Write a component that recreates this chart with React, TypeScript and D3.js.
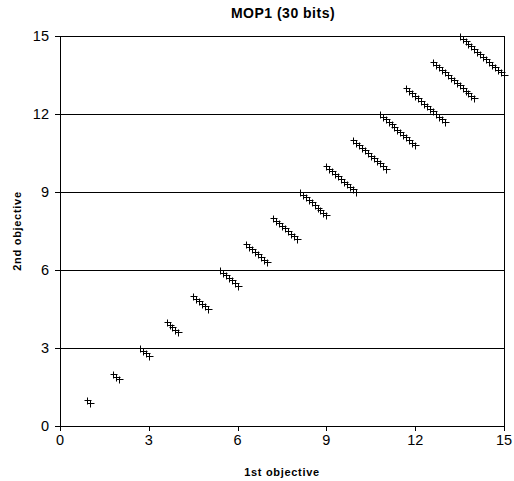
import React from "react";
import * as d3 from "d3";

const title = "MOP1 (30 bits)";
const xLabel = "1st objective";
const yLabel = "2nd objective";
const xTicks = [0, 3, 6, 9, 12, 15];
const yTicks = [0, 3, 6, 9, 12, 15];
const gridValues = [3, 6, 9, 12, 15];

// Points of each front segment (x values, y values)
const clusterX: number[][] = [
  [0.9, 1.0],
  [1.8, 1.9, 2.0],
  [2.7, 2.8, 2.9, 3.0],
  [3.6, 3.7, 3.8, 3.9, 4.0],
  [4.5, 4.6, 4.7, 4.8, 4.9, 5.0],
  [5.4, 5.5, 5.6, 5.7, 5.8, 5.9, 6.0],
  [6.3, 6.4, 6.5, 6.6, 6.7, 6.8, 6.9, 7.0],
  [7.2, 7.3, 7.4, 7.5, 7.6, 7.7, 7.8, 7.9, 8.0],
  [8.1, 8.2, 8.3, 8.4, 8.5, 8.6, 8.7, 8.8, 8.9, 9.0],
  [9.0, 9.1, 9.2, 9.3, 9.4, 9.5, 9.6, 9.7, 9.8, 9.9, 10.0],
  [9.9, 10.0, 10.1, 10.2, 10.3, 10.4, 10.5, 10.6, 10.7, 10.8, 10.9, 11.0],
  [10.8, 10.9, 11.0, 11.1, 11.2, 11.3, 11.4, 11.5, 11.6, 11.7, 11.8, 11.9, 12.0],
  [11.7, 11.8, 11.9, 12.0, 12.1, 12.2, 12.3, 12.4, 12.5, 12.6, 12.7, 12.8, 12.9, 13.0],
  [12.6, 12.7, 12.8, 12.9, 13.0, 13.1, 13.2, 13.3, 13.4, 13.5, 13.6, 13.7, 13.8, 13.9, 14.0],
  [13.5, 13.6, 13.7, 13.8, 13.9, 14.0, 14.1, 14.2, 14.3, 14.4, 14.5, 14.6, 14.7, 14.8, 14.9, 15.0],
];
const clusterY: number[][] = [
  [1.0, 0.9],
  [2.0, 1.9, 1.8],
  [3.0, 2.9, 2.8, 2.7],
  [4.0, 3.9, 3.8, 3.7, 3.6],
  [5.0, 4.9, 4.8, 4.7, 4.6, 4.5],
  [6.0, 5.9, 5.8, 5.7, 5.6, 5.5, 5.4],
  [7.0, 6.9, 6.8, 6.7, 6.6, 6.5, 6.4, 6.3],
  [8.0, 7.9, 7.8, 7.7, 7.6, 7.5, 7.4, 7.3, 7.2],
  [9.0, 8.9, 8.8, 8.7, 8.6, 8.5, 8.4, 8.3, 8.2, 8.1],
  [10.0, 9.9, 9.8, 9.7, 9.6, 9.5, 9.4, 9.3, 9.2, 9.1, 9.0],
  [11.0, 10.9, 10.8, 10.7, 10.6, 10.5, 10.4, 10.3, 10.2, 10.1, 10.0, 9.9],
  [12.0, 11.9, 11.8, 11.7, 11.6, 11.5, 11.4, 11.3, 11.2, 11.1, 11.0, 10.9, 10.8],
  [13.0, 12.9, 12.8, 12.7, 12.6, 12.5, 12.4, 12.3, 12.2, 12.1, 12.0, 11.9, 11.8, 11.7],
  [14.0, 13.9, 13.8, 13.7, 13.6, 13.5, 13.4, 13.3, 13.2, 13.1, 13.0, 12.9, 12.8, 12.7, 12.6],
  [15.0, 14.9, 14.8, 14.7, 14.6, 14.5, 14.4, 14.3, 14.2, 14.1, 14.0, 13.9, 13.8, 13.7, 13.6, 13.5],
];

const W = 514;
const H = 481;
const left = 60;
const right = 504;
const top = 36;
const bottom = 426;
const font = "'Liberation Sans', Arial, sans-serif";

export default function App() {
  const x = d3.scaleLinear().domain([0, 15]).range([left, right]);
  const y = d3.scaleLinear().domain([0, 15]).range([bottom, top]);
  const points: [number, number][] = [];
  clusterX.forEach((xs, i) => xs.forEach((v, j) => points.push([v, clusterY[i][j]])));
  const s = 3;
  return (
    <svg width={W} height={H} style={{ position: "absolute", left: 0, top: 0, background: "#fff" }}>
      <text x={283} y={18} textAnchor="middle" fontFamily={font} fontWeight="bold" fontSize={14} letterSpacing={0.5}>
        {title}
      </text>
      {gridValues.map((g) => (
        <line key={g} x1={left} x2={right} y1={Math.round(y(g)) + 0.5} y2={Math.round(y(g)) + 0.5} stroke="#000" strokeWidth={1} />
      ))}
      <line x1={right + 0.5} x2={right + 0.5} y1={top} y2={bottom} stroke="#000" />
      <line x1={left + 0.5} x2={left + 0.5} y1={top} y2={bottom + 0.5} stroke="#000" />
      <line x1={left} x2={right + 1} y1={bottom + 0.5} y2={bottom + 0.5} stroke="#000" />
      {yTicks.map((t) => (
        <g key={"y" + t}>
          <line x1={left - 5} x2={left} y1={Math.round(y(t)) + 0.5} y2={Math.round(y(t)) + 0.5} stroke="#000" />
          <text x={49} y={y(t)} dy="0.36em" textAnchor="end" fontFamily={font} fontSize={14.5}>
            {t}
          </text>
        </g>
      ))}
      {xTicks.map((t) => (
        <g key={"x" + t}>
          <line x1={Math.round(x(t)) + 0.5} x2={Math.round(x(t)) + 0.5} y1={bottom} y2={bottom + 5} stroke="#000" />
          <text x={x(t)} y={445} textAnchor="middle" fontFamily={font} fontSize={14.5}>
            {t}
          </text>
        </g>
      ))}
      <text x={282} y={476} textAnchor="middle" fontFamily={font} fontWeight="bold" fontSize={11} letterSpacing={0.7}>
        {xLabel}
      </text>
      <text transform={`translate(21,${(top + bottom) / 2}) rotate(-90)`} textAnchor="middle" fontFamily={font} fontWeight="bold" fontSize={11} letterSpacing={0.7}>
        {yLabel}
      </text>
      {points.map(([px, py], i) => {
        const cx = Math.round(x(px)) + 0.5;
        const cy = Math.round(y(py)) + 0.5;
        return (
          <path key={i} d={`M${cx - s},${cy}H${cx + s + 1}M${cx},${cy - s}V${cy + s + 1}`} stroke="#000" strokeWidth={1} fill="none" />
        );
      })}
    </svg>
  );
}
